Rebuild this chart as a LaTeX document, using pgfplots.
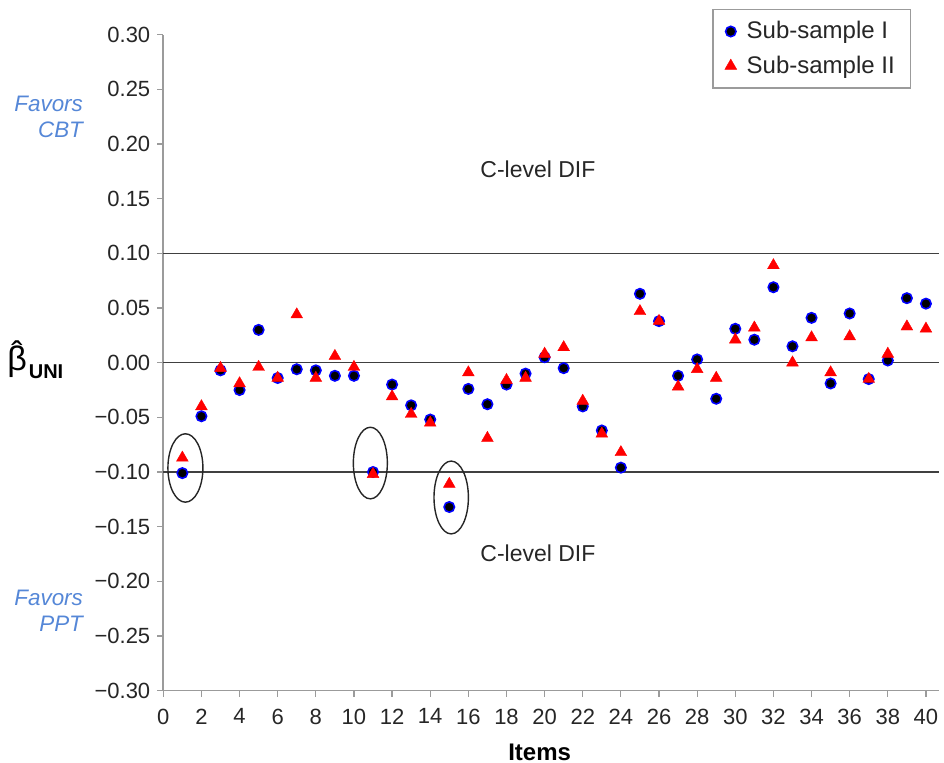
\documentclass[border=0pt]{standalone}
\usepackage{fontspec}
\setmainfont{Liberation Sans}
\usepackage{pgfplots}
\usepackage{pgfplotstable}
\pgfplotsset{compat=1.18}
\definecolor{favblue}{RGB}{85,135,215}
\definecolor{axgray}{RGB}{155,155,155}

% beta_UNI per item, two sub-samples
\pgfplotstableread{
item s1     s2
1  -0.101 -0.087
2  -0.049 -0.040
3  -0.007 -0.005
4  -0.025 -0.019
5   0.030 -0.004
6  -0.014 -0.014
7  -0.006  0.044
8  -0.007 -0.014
9  -0.012  0.006
10 -0.012 -0.004
11 -0.100 -0.102
12 -0.020 -0.031
13 -0.039 -0.047
14 -0.052 -0.055
15 -0.132 -0.111
16 -0.024 -0.009
17 -0.038 -0.069
18 -0.020 -0.016
19 -0.010 -0.014
20  0.005  0.008
21 -0.005  0.014
22 -0.040 -0.035
23 -0.062 -0.065
24 -0.096 -0.082
25  0.063  0.047
26  0.038  0.038
27 -0.012 -0.022
28  0.003 -0.006
29 -0.033 -0.014
30  0.031  0.021
31  0.021  0.032
32  0.069  0.089
33  0.015  0.000
34  0.041  0.023
35 -0.019 -0.009
36  0.045  0.024
37 -0.015 -0.015
38  0.002  0.008
39  0.059  0.033
40  0.054  0.031
}\dif

\begin{document}
\begin{tikzpicture}
\begin{axis}[
  scale only axis,
  width=388pt, height=328pt,
  xmin=0, xmax=40.7,
  ymin=-0.30, ymax=0.30,
  clip=false,
  axis x line*=bottom, axis y line*=left,
  axis line style={axgray, line width=0.8pt},
  tick align=outside,
  major tick length=3pt,
  tick style={axgray, line width=0.6pt},
  xtick={0,2,...,40},
  ytick={-0.30,-0.25,-0.20,-0.15,-0.10,-0.05,0,0.05,0.10,0.15,0.20,0.25,0.30},
  yticklabels={−0.30,−0.25,−0.20,−0.15,−0.10,−0.05,0.00,0.05,0.10,0.15,0.20,0.25,0.30},
  /pgf/number format/assume math mode=true,
  ticklabel style={font=\fontsize{11}{13}\selectfont, text=black!85},
  xticklabel style={yshift=-2.5pt},
  extra y ticks={-0.1,0,0.1},
  extra y tick labels={},
  extra y tick style={grid=major, major tick length=0pt,
    major grid style={black!75, line width=0.8pt}},
  xlabel={\textbf{Items}},
  xlabel style={at={(axis description cs:0.485,0)}, anchor=center,
    yshift=-30.6pt, font=\fontsize{12}{14}\selectfont},
  legend style={at={(0.964,1.0396)}, anchor=north east,
    draw=axgray, line width=0.6pt, font=\fontsize{12}{14}\selectfont,
    text=black!85, row sep=3pt, inner xsep=6pt, inner ysep=4pt,
    /tikz/every odd column/.append style={column sep=3pt}},
  legend cell align=left,
]
\coordinate (O) at (rel axis cs:0,0);

\addplot[only marks, mark=*, mark size=2.6pt,
  mark options={fill=black, draw=blue, line width=0.8pt}]
  table[x=item, y=s1]{\dif};
\addlegendentry{Sub-sample I}
\addplot[only marks, mark=triangle*, mark size=3.4pt,
  mark options={fill=red, draw=red, line width=0.2pt}]
  table[x=item, y=s2]{\dif};
\addlegendentry{Sub-sample II}

\draw[black!85, line width=0.7pt] (axis cs:1.16,-0.0963) ellipse [x radius=8.75pt, y radius=17.1pt];
\draw[black!85, line width=0.7pt] (axis cs:10.86,-0.0918) ellipse [x radius=8.5pt, y radius=17.9pt];
\draw[black!85, line width=0.7pt] (axis cs:15.1,-0.1233) ellipse [x radius=8.6pt, y radius=18.2pt];

\node[font=\fontsize{11.5}{13}\selectfont, text=black!85] at (axis cs:19.65,0.177) {C-level DIF};
\node[font=\fontsize{11.5}{13}\selectfont, text=black!85] at (axis cs:19.65,-0.174) {C-level DIF};

\node[anchor=east, align=right, inner sep=0pt, text=favblue,
  font=\fontsize{11.2}{13}\selectfont\itshape, xshift=-40pt] at (axis cs:0,0.2247) {Favors\\CBT};
\node[anchor=east, align=right, inner sep=0pt, text=favblue,
  font=\fontsize{11.2}{13}\selectfont\itshape, xshift=-40pt] at (axis cs:0,-0.2265) {Favors\\PPT};

\node[xshift=-64pt, inner sep=0pt] at (axis cs:0,0)
  {{\fontsize{17}{20}\selectfont\ooalign{β\cr\hidewidth\raisebox{2.5pt}{ˆ}\hidewidth\cr}}\hspace{1pt}\raisebox{-4pt}{\fontsize{10}{12}\selectfont\bfseries UNI}};
\end{axis}
\pgfresetboundingbox
\path (O) ++(-81.65pt,-36.15pt) rectangle ++(472pt,381.5pt);
\end{tikzpicture}
\end{document}
